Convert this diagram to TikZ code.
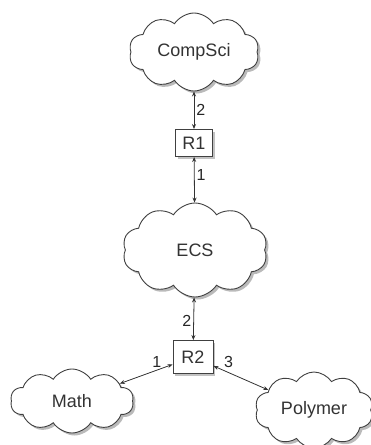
\documentclass[tikz,border=0pt]{standalone}
\usepackage{fontspec}
\setmainfont{Liberation Sans}
\usetikzlibrary{arrows.meta,shapes.symbols,shadows}

\tikzset{
  net/.style={cloud, cloud puffs=10, cloud puff arc=115, cloud ignores aspect,
    draw=black!75, fill=white, line width=0.9pt, text=black!80, inner sep=0pt,
    drop shadow={opacity=0.45, shadow xshift=2.5pt, shadow yshift=-2.5pt, fill=black!60}},
  router/.style={rectangle, draw=black!75, fill=white, line width=0.9pt, text=black!80,
    inner sep=0pt, drop shadow={opacity=0.4, shadow xshift=2pt, shadow yshift=-2pt, fill=black!60}},
  link/.style={<->, >={Stealth[length=5pt,width=4pt]}, line width=0.8pt, black!80},
  port/.style={text=black!85, inner sep=2pt, font=\fontsize{16}{18}\selectfont}
}

\begin{document}
\begin{tikzpicture}[x=1pt, y=-1pt, font=\fontsize{18}{21}\selectfont]
    \useasboundingbox (0,0) rectangle (370,445);

    % Nodes
    \node[net, minimum width=130pt, minimum height=78pt] (CompSci) at (194,52) {CompSci};
    \node[router, minimum width=37pt, minimum height=27pt] (R1) at (194,143) {R1};
    \node[net, minimum width=145pt, minimum height=94pt] (ECS) at (195,250) {ECS};
    \node[router, minimum width=40pt, minimum height=33pt] (R2) at (193,357) {R2};
    \node[net, minimum width=123pt, minimum height=64pt] (Math) at (72,401) {Math};
    \node[net, minimum width=118pt, minimum height=76pt] (Polymer) at (314,410) {Polymer};

    % Links
    \draw[link] (CompSci) to node[port, pos=0.5, right]{2} (R1);
    \draw[link] (R1) to node[port, pos=0.4, right]{1} (ECS);
    \draw[link] (ECS) to node[port, pos=0.55, left]{2} (R2);
    \draw[link] (R2) to node[port, pos=0.3, above]{1} (Math);
    \draw[link] (R2) to node[port, pos=0.15, above right]{3} (Polymer);
\end{tikzpicture}
\end{document}
